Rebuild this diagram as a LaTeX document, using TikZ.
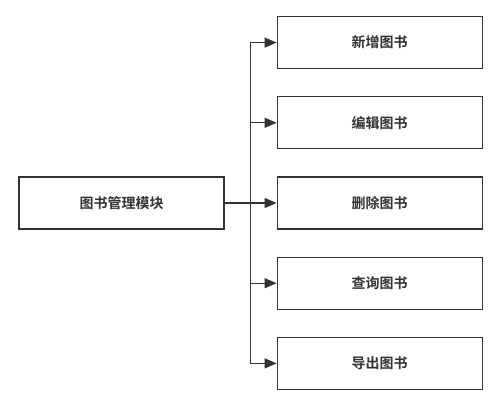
\documentclass[tikz,border=0pt]{standalone}
\usepackage{fontspec}
\newfontfamily\cjk{Noto Sans CJK SC}[BoldFont={* Bold}]
\usetikzlibrary{arrows.meta, positioning, calc}

\begin{document}
\begin{tikzpicture}[
        x=1pt, y=1pt,
        node distance=27pt and 52pt,
        box/.style={rectangle, draw=black!80, line width=1.2pt, fill=white, minimum width=205pt, minimum height=52pt, inner sep=0pt, font=\cjk\bfseries\fontsize{14}{16}\selectfont, text=black!80},
        line/.style={line width=1.2pt, color=black!80},
        arrow/.style={line, -{Triangle[length=12pt, width=10pt]}}
    ]
    \useasboundingbox (0,0) rectangle (500,-406);

    % Nodes
    \node[box] (module) at (121.5,-203) {图书管理模块};
    \node[box] (delete) [right=52pt of module] {删除图书};
    \node[box] (edit) [above=of delete] {编辑图书};
    \node[box] (add) [above=of edit] {新增图书};
    \node[box] (query) [below=of delete] {查询图书};
    \node[box] (export) [below=of query] {导出图书};

    % Connections
    \coordinate (trunk) at ($(module.east)+(26,0)$);
    \draw[line] (module.east) -- (trunk);
    \foreach \target in {add, edit, delete, query, export}
        \draw[arrow] (trunk) |- (\target.west);

\end{tikzpicture}
\end{document}
